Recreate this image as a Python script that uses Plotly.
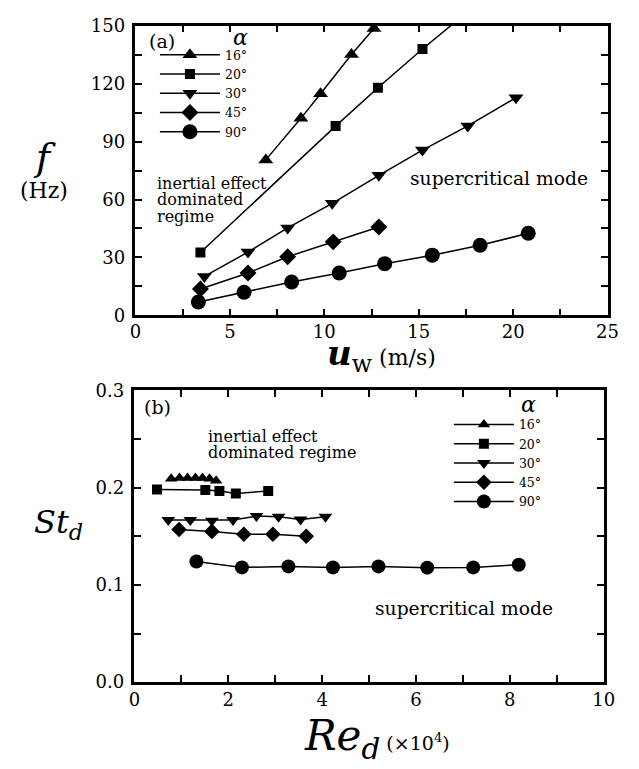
import plotly.graph_objects as go

W, H = 639, 769
FONT = "DejaVu Serif"

# ---------------- data: panel (a) f vs u_w ----------------
alpha_labels = ["16°", "20°", "30°", "45°", "90°"]
symbols = ["triangle-up", "square", "triangle-down", "diamond", "circle"]

a_u16 = [6.9, 8.76, 9.8, 11.44, 12.63]
a_f16 = [80.5, 102, 114.7, 135, 148.5]
a_u20 = [3.44, 10.6, 12.84, 15.2, 17.7]
a_f20 = [32.6, 98, 117.8, 137.9, 158]
a_u30 = [3.65, 5.96, 8.06, 10.42, 12.89, 15.2, 17.6, 20.15]
a_f30 = [20.2, 32.8, 45.3, 58, 72.5, 85.6, 98.1, 112.7]
a_u45 = [3.44, 5.96, 8.06, 10.47, 12.89]
a_f45 = [13.7, 22, 30.4, 38.1, 45.8]
a_u90 = [3.33, 5.75, 8.27, 10.79, 13.2, 15.72, 18.25, 20.8]
a_f90 = [7, 12, 17.3, 22, 26.8, 31.2, 36.3, 42.5]

# ---------------- data: panel (b) St_d vs Re_d ----------------
b_re16 = [0.78, 0.96, 1.13, 1.3, 1.45, 1.6, 1.74]
b_st16 = [0.209, 0.21, 0.21, 0.21, 0.21, 0.209, 0.207]
b_re20 = [0.48, 1.51, 1.81, 2.16, 2.85]
b_st20 = [0.198, 0.1975, 0.1965, 0.194, 0.1965]
b_re30 = [0.72, 1.19, 1.65, 2.1, 2.6, 3.07, 3.54, 4.07]
b_st30 = [0.1667, 0.1667, 0.166, 0.1667, 0.1707, 0.17, 0.1673, 0.17]
b_re45 = [0.95, 1.65, 2.33, 2.95, 3.66]
b_st45 = [0.157, 0.155, 0.152, 0.152, 0.150]
b_re90 = [1.32, 2.29, 3.28, 4.23, 5.2, 6.24, 7.22, 8.19]
b_st90 = [0.124, 0.118, 0.119, 0.118, 0.119, 0.1177, 0.118, 0.1207]

a_x = [a_u16, a_u20, a_u30, a_u45, a_u90]
a_y = [a_f16, a_f20, a_f30, a_f45, a_f90]
b_x = [b_re16, b_re20, b_re30, b_re45, b_re90]
b_y = [b_st16, b_st20, b_st30, b_st45, b_st90]

a_sizes = [13, 10, 13, 13, 15]
b_sizes = [11, 10, 12, 12, 14]


def px(x):
    return x / W


def py(y):
    return 1 - y / H


fig = go.Figure()
for i in range(5):
    fig.add_trace(go.Scatter(
        x=a_x[i], y=a_y[i], mode="lines+markers", name=alpha_labels[i],
        xaxis="x", yaxis="y", legend="legend",
        line=dict(color="black", width=1.5),
        marker=dict(symbol=symbols[i], size=a_sizes[i], color="black"),
    ))
for i in range(5):
    fig.add_trace(go.Scatter(
        x=b_x[i], y=b_y[i], mode="lines+markers", name=alpha_labels[i],
        xaxis="x2", yaxis="y2", legend="legend2",
        line=dict(color="black", width=1.5),
        marker=dict(symbol=symbols[i], size=b_sizes[i], color="black"),
    ))

axis_common = dict(
    showline=True, linecolor="black", linewidth=2.5, mirror="ticks",
    ticks="inside", ticklen=7, tickwidth=1.5, tickcolor="black",
    showgrid=False, zeroline=False,
    tickfont=dict(family=FONT, size=18, color="black"),
)
minor_common = dict(ticks="inside", ticklen=7, tickwidth=1.5, tickcolor="black")

fig.update_layout(
    width=W, height=H,
    margin=dict(l=0, r=0, t=0, b=0),
    paper_bgcolor="white", plot_bgcolor="white",
    font=dict(family=FONT, color="black"),
    xaxis=dict(domain=[px(133), px(618)], range=[0, 25], dtick=5,
               minor=dict(dtick=2.5, **minor_common), ticklabelstandoff=-2,
               anchor="y", **axis_common),
    yaxis=dict(domain=[py(313), py(15)], range=[0, 150], dtick=30,
               minor=dict(dtick=15, **minor_common), ticklabelstandoff=4,
               anchor="x", **axis_common),
    xaxis2=dict(domain=[px(132), px(614)], range=[0, 10], dtick=2,
                minor=dict(dtick=1, **minor_common), ticklabelstandoff=-1,
                anchor="y2", **axis_common),
    yaxis2=dict(domain=[py(690), py(390)], range=[0, 0.3], dtick=0.1, tickformat=".1f",
                minor=dict(dtick=0.05, **minor_common), ticklabelstandoff=4,
                anchor="x2", **axis_common),
    legend=dict(x=px(153), y=py(30), xanchor="left", yanchor="top",
                bgcolor="rgba(0,0,0,0)", borderwidth=0, itemwidth=60,
                font=dict(family=FONT, size=12.5, color="black"), tracegroupgap=0),
    legend2=dict(x=px(455), y=py(410), xanchor="left", yanchor="top",
                 bgcolor="rgba(0,0,0,0)", borderwidth=0, itemwidth=60,
                 font=dict(family=FONT, size=12.5, color="black"), tracegroupgap=0),
    showlegend=True,
)


def ann(x, y, text, size, xanchor="left", yanchor="middle"):
    fig.add_annotation(x=px(x), y=py(y), xref="paper", yref="paper", text=text,
                       showarrow=False, xanchor=xanchor, yanchor=yanchor,
                       font=dict(family=FONT, size=size, color="black"))


# panel (a) texts
ann(160, 31, "(a)", 19, "center")
ann(241, 27, "<i>α</i>", 22, "center")
ann(153, 177, "inertial effect", 16)
ann(153, 194, "dominated", 16)
ann(153, 211, "regime", 16)
ann(413, 172, "supercritical mode", 18.7)
ann(40, 150, "<i>f</i>", 38, "center")
ann(39, 185, "(Hz)", 22, "center")
ann(328, 354, "<b><i>u</i></b><sub>w</sub><span style='font-size:22px'> (m/s)</span>", 34)

# panel (b) texts
ann(156, 407, "(b)", 19, "center")
ann(537, 405, "<i>α</i>", 22, "center")
ann(205, 437, "inertial effect", 16)
ann(205, 454, "dominated regime", 16)
ann(377, 614, "supercritical mode", 18.7)
ann(27, 527, "<i>St</i><sub><i>d</i></sub>", 32)
ann(304, 748, "<i>Re</i><sub><i>d</i></sub><span style='font-size:19px'> (×10<sup>4</sup>)</span>", 42)

fig.write_html("out.html")
